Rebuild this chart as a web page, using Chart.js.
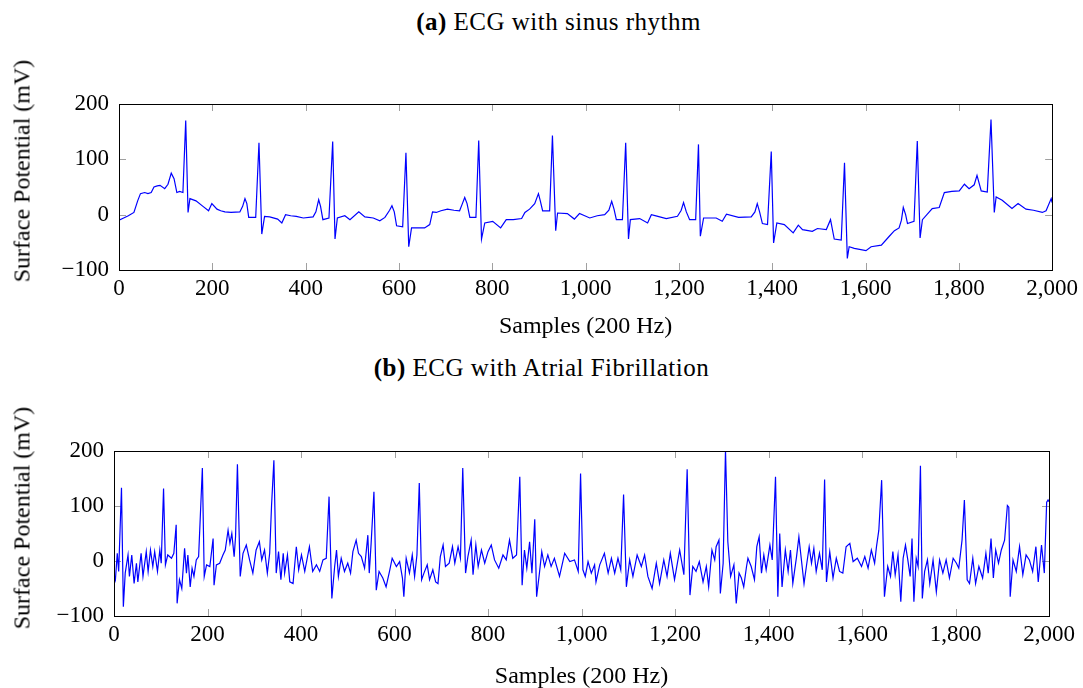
<!DOCTYPE html>
<html>
<head>
<meta charset="utf-8">
<script src="https://cdn.jsdelivr.net/npm/chart.js@4.4.0/dist/chart.umd.min.js"></script>
<style>
  body { margin: 0; width: 1083px; height: 688px; overflow: hidden; background: #fff; position: relative; }
  canvas { position: absolute; left: 0; }
  .title { position: absolute; width: 1083px; text-align: center; font: 25px 'Liberation Serif', serif; letter-spacing: 0.5px; line-height: 28px; color: #000; }
  .ytitle { position: absolute; left: 22px; white-space: nowrap; font: 24px 'Liberation Serif', serif; color: #000;
            transform: translate(-50%, -50%) rotate(-90deg); }
</style>
</head>
<body>
<div class="title" style="left:17px; top:8px;"><b>(a)</b> ECG with sinus rhythm</div>
<canvas id="sinusChart" width="1083" height="345" style="top:0"></canvas>
<div class="ytitle" style="top:171px;">Surface Potential (mV)</div>
<div class="title" style="left:0px; top:354px;"><b>(b)</b> ECG with Atrial Fibrillation</div>
<canvas id="afibChart" width="1083" height="345" style="top:350px"></canvas>
<div class="ytitle" style="top:518px;">Surface Potential (mV)</div>
<script>
// axis ticks
const xTicks = [0, 200, 400, 600, 800, 1000, 1200, 1400, 1600, 1800, 2000];
const yTicks = [-100, 0, 100, 200];

// (a) sinus rhythm (sample, mV)
const sinusX = [0, 10, 20, 32, 40, 46, 55, 62, 69, 75, 82, 88, 98, 105, 112, 118, 124, 130, 137, 143, 148, 152, 165,
  180, 192, 199, 210, 218, 227, 240, 259, 265, 270, 274, 278, 293, 300, 306, 312, 323, 340, 349, 357, 368, 380, 395, 416,
  422, 428, 432, 437, 450, 458, 463, 468, 484, 495, 514, 527, 545, 559, 570, 580, 585, 590, 595, 608, 615,
  621, 627, 638, 655, 666, 672, 680, 690, 704, 718, 730, 736, 741, 746, 752, 765, 771, 777, 784, 801, 818, 830,
  845, 863, 870, 880, 891, 899, 903, 908, 923, 929, 936, 940, 961, 976, 987, 1009, 1025, 1041, 1050, 1056, 1061, 1066, 1079,
  1086, 1092, 1096, 1116, 1133, 1141, 1155, 1173, 1197, 1205, 1210, 1216, 1223, 1236, 1242, 1246, 1253, 1280, 1293, 1302, 1328,
  1355, 1363, 1368, 1373, 1379, 1390, 1398, 1403, 1410, 1426, 1445, 1456, 1465, 1486, 1497, 1516, 1525, 1533, 1548, 1555,
  1561, 1565, 1576, 1601, 1612, 1634, 1651, 1662, 1672, 1677, 1681, 1686, 1690, 1704, 1711, 1717, 1722, 1743, 1758, 1769,
  1785, 1801, 1812, 1822, 1833, 1839, 1848, 1861, 1869, 1876, 1880, 1893, 1914, 1927, 1944, 1960, 1979, 1987, 1998, 2000];
const sinusY = [-10, -6, -2, 4, 25, 38, 40, 38, 40, 50, 52, 53, 47, 55, 75, 65, 40, 42, 40, 170, 4, 29, 25,
  15, 7, 20, 10, 7, 5, 4, 5, 15, 29, 20, -5, -5, 130, -35, -3, -4, -8, -15, 0, -2, -3, -6, -4,
  5, 27, 15, -9, -6, 132, -44, -6, -2, -9, 5, -4, -6, -11, -5, 8, 16, 5, -20, -22, 112,
  -58, -24, -24, -24, -18, 5, 4, 7, 10, 8, 7, 20, 31, 20, -5, -5, 134, -44, -15, -12, -24, -9,
  -9, -7, 4, 10, 20, 38, 25, 7, 7, 143, -29, 3, 2, -8, 2, -6, -2, 0, 8, 24, 10, -9, -9,
  130, -44, -9, -7, -15, 0, -3, -7, -3, 8, 22, 5, -9, -9, 127, -39, -6, -6, -12, 1, -5,
  -4, 5, 20, 5, -16, -18, 114, -51, -15, -18, -33, -19, -27, -30, -25, -27, -9, -44, -46, 94,
  -79, -58, -61, -65, -58, -55, -39, -29, -24, -10, 13, 0, -16, -12, 133, -42, -9, 11, 13, 40,
  42, 43, 55, 47, 54, 71, 43, 41, 172, 4, 32, 26, 11, 20, 10, 8, 4, 7, 29, 22];

// (b) atrial fibrillation
const afibX = [0, 3, 7, 10, 16, 20, 24, 30, 33, 38, 43, 48, 51, 58, 62, 69, 73, 78, 83, 87,
  93, 98, 101, 106, 110, 115, 123, 128, 133, 135, 140, 145, 151, 155, 158, 163, 167, 171, 176, 181,
  189, 193, 198, 205, 212, 214, 219, 226, 233, 238, 244, 248, 252, 257, 260, 264, 270, 276, 283, 290,
  297, 304, 311, 316, 322, 328, 333, 337, 342, 347, 352, 357, 362, 365, 371, 376, 383, 390, 395, 401,
  408, 418, 425, 433, 440, 447, 454, 460, 466, 472, 476, 480, 486, 493, 500, 506, 511, 518, 523, 529,
  536, 543, 546, 550, 556, 561, 567, 575, 582, 590, 595, 604, 611, 617, 620, 625, 632, 638, 643, 648,
  653, 658, 663, 670, 675, 682, 688, 693, 698, 704, 709, 717, 724, 729, 736, 741, 746, 752, 757, 764,
  768, 774, 779, 786, 793, 800, 807, 814, 823, 832, 839, 846, 853, 861, 868, 873, 878, 883, 889, 894,
  900, 904, 910, 915, 921, 928, 935, 942, 953, 964, 975, 985, 993, 998, 1003, 1008, 1014, 1021, 1028, 1031,
  1039, 1049, 1057, 1064, 1071, 1078, 1084, 1090, 1096, 1103, 1110, 1119, 1128, 1135, 1142, 1151, 1160, 1167, 1176, 1183,
  1190, 1199, 1210, 1219, 1226, 1232, 1238, 1245, 1252, 1260, 1267, 1272, 1279, 1285, 1288, 1294, 1297, 1303, 1308, 1313,
  1319, 1326, 1331, 1337, 1342, 1347, 1353, 1356, 1363, 1370, 1375, 1380, 1385, 1390, 1395, 1403, 1408, 1415, 1420, 1424,
  1429, 1436, 1442, 1447, 1452, 1460, 1465, 1470, 1476, 1481, 1487, 1492, 1497, 1502, 1509, 1515, 1520, 1524, 1531, 1538,
  1545, 1552, 1559, 1566, 1574, 1581, 1590, 1599, 1606, 1613, 1620, 1627, 1631, 1636, 1642, 1648, 1655, 1661, 1666, 1671,
  1677, 1683, 1688, 1693, 1698, 1703, 1707, 1711, 1716, 1720, 1725, 1729, 1734, 1740, 1745, 1752, 1759, 1766, 1773, 1780,
  1787, 1795, 1802, 1807, 1814, 1819, 1825, 1830, 1837, 1843, 1850, 1858, 1865, 1870, 1876, 1881, 1886, 1892, 1898, 1905,
  1911, 1914, 1917, 1923, 1930, 1937, 1944, 1951, 1958, 1965, 1972, 1977, 1984, 1990, 1995, 1998, 2000];
const afibY = [-25, -34, 14, -19, 133, -83, -22, 11, -28, 11, -41, -4, -38, 14, -28, 17, -19, 20, -10, 17,
  -19, 20, -4, 132, -7, 11, 5, 14, 66, -77, -34, -50, 23, -22, 11, -47, -13, -28, 2, 8,
  169, -28, -7, -10, 41, -44, -7, -4, 11, 20, 56, 32, 50, 8, 44, 176, -28, 14, 29, 2,
  -22, 20, 35, 2, 20, -22, 14, 101, 183, -22, 17, -34, 14, -22, 11, -38, -41, 26, -16, 11,
  -19, 26, -19, -7, -19, 2, 5, 117, -68, -10, 20, -28, 5, -19, -4, -22, 17, 38, 14, 8,
  -13, 47, -22, 32, 126, -53, -19, -31, -47, -16, 5, -10, -1, -31, -65, 5, -22, 11, -28, 11,
  142, -34, -22, -7, -34, -16, -38, -41, 8, 29, -10, -4, 26, -4, 26, 5, 169, -22, 8, 38,
  -25, 29, -10, 20, -4, 17, 29, 2, -13, 11, 2, 38, 5, 11, 153, -44, 20, -13, 35, -22,
  76, -65, -22, 17, -10, 11, -10, 5, -28, 14, -1, 2, -19, 159, -16, -28, -1, -22, -7, -38,
  -7, 14, -22, 5, -22, 5, -16, 121, -47, 2, -28, 11, -10, 11, -28, -50, -4, -41, 2, -28,
  14, -34, 20, -25, 167, -62, -10, -19, -1, -38, -10, -47, 20, 2, 26, 38, -59, -4, 202, 35,
  -28, -7, -77, -22, -31, -47, -10, 5, -10, -34, 26, 44, -22, 11, -16, 29, 2, 153, -65, 50,
  -47, 20, -19, 20, -41, 8, 44, 5, -41, -10, 26, -4, 23, -19, 14, -16, 148, -38, 17, -31,
  5, -19, -22, 26, 32, -1, 5, -10, 8, -13, 20, -4, 26, 56, 147, -65, -10, -28, 17, -25,
  11, -74, 5, 29, 2, -28, 41, -74, 5, -10, 173, -68, -19, 2, -41, 2, -56, 2, -22, 2,
  -31, 5, -4, -13, 38, 111, -34, -41, 5, -41, -10, -31, 14, -22, 41, -31, 20, -4, 20, 38,
  101, 98, -65, 2, -19, 26, -25, 11, 2, -19, 26, -38, 29, -22, 107, 111, 108];

const serif = "'Liberation Serif', serif";

// pgfplots style: ticks pointing inwards on all four sides, black frame
const frameTicks = {
  id: 'frameTicks',
  beforeDatasetsDraw(chart) {
    const { ctx, chartArea: a, scales: { x, y } } = chart;
    ctx.save();
    ctx.strokeStyle = '#a0a0a0';
    ctx.lineWidth = 1;
    ctx.beginPath();
    x.ticks.forEach(t => {
      const px = Math.round(x.getPixelForValue(t.value)) + 0.5;
      ctx.moveTo(px, a.bottom); ctx.lineTo(px, a.bottom - 7);
      ctx.moveTo(px, a.top); ctx.lineTo(px, a.top + 7);
    });
    y.ticks.forEach(t => {
      const py = Math.round(y.getPixelForValue(t.value)) + 0.5;
      ctx.moveTo(a.left, py); ctx.lineTo(a.left + 7, py);
      ctx.moveTo(a.right, py); ctx.lineTo(a.right - 7, py);
    });
    ctx.stroke();
    ctx.restore();
  },
  afterDatasetsDraw(chart) {
    const { ctx, chartArea: a } = chart;
    ctx.save();
    ctx.strokeStyle = '#000';
    ctx.lineWidth = 1;
    ctx.strokeRect(Math.round(a.left) + 0.5, Math.round(a.top) + 0.5,
      Math.round(a.right - a.left), Math.round(a.bottom - a.top));
    ctx.restore();
  }
};

function makeChart(id, xs, ys, box) {
  const points = xs.map((x, i) => ({ x: x, y: ys[i] }));
  return new Chart(document.getElementById(id), {
    type: 'line',
    data: {
      datasets: [{
        data: points,
        borderColor: '#0000ff',
        borderWidth: 1.2,
        pointRadius: 0,
        tension: 0,
        fill: false
      }]
    },
    options: {
      responsive: false,
      animation: false,
      devicePixelRatio: 1,
      layout: { padding: { top: box.top, right: box.right, left: 0, bottom: 0 } },
      plugins: { legend: { display: false }, tooltip: { enabled: false } },
      scales: {
        x: {
          type: 'linear',
          min: 0,
          max: 2000,
          afterBuildTicks: s => { s.ticks = xTicks.map(v => ({ value: v })); },
          afterFit: s => { s.height = box.xHeight; },
          grid: { display: false, drawTicks: false },
          border: { display: false },
          ticks: {
            autoSkip: false,
            maxRotation: 0,
            padding: 5,
            color: '#000',
            font: { family: serif, size: 23 },
            callback: v => v.toLocaleString('en-US')
          },
          title: {
            display: true,
            text: 'Samples (200 Hz)',
            color: '#000',
            font: { family: serif, size: 24 },
            padding: { top: 0, bottom: 4 }
          }
        },
        y: {
          min: -100,
          max: 200,
          afterBuildTicks: s => { s.ticks = yTicks.map(v => ({ value: v })); },
          afterFit: s => { s.width = box.yWidth; },
          grid: { display: false, drawTicks: false },
          border: { display: false },
          ticks: {
            padding: 10,
            color: '#000',
            font: { family: serif, size: 23 },
            callback: v => (v < 0 ? '\u2212' + Math.abs(v) : String(v))
          }
        }
      }
    },
    plugins: [frameTicks]
  });
}

makeChart('sinusChart', sinusX, sinusY, { top: 104, right: 30, yWidth: 119, xHeight: 75 });
makeChart('afibChart', afibX, afibY, { top: 101, right: 34, yWidth: 114, xHeight: 79 });
</script>
</body>
</html>
